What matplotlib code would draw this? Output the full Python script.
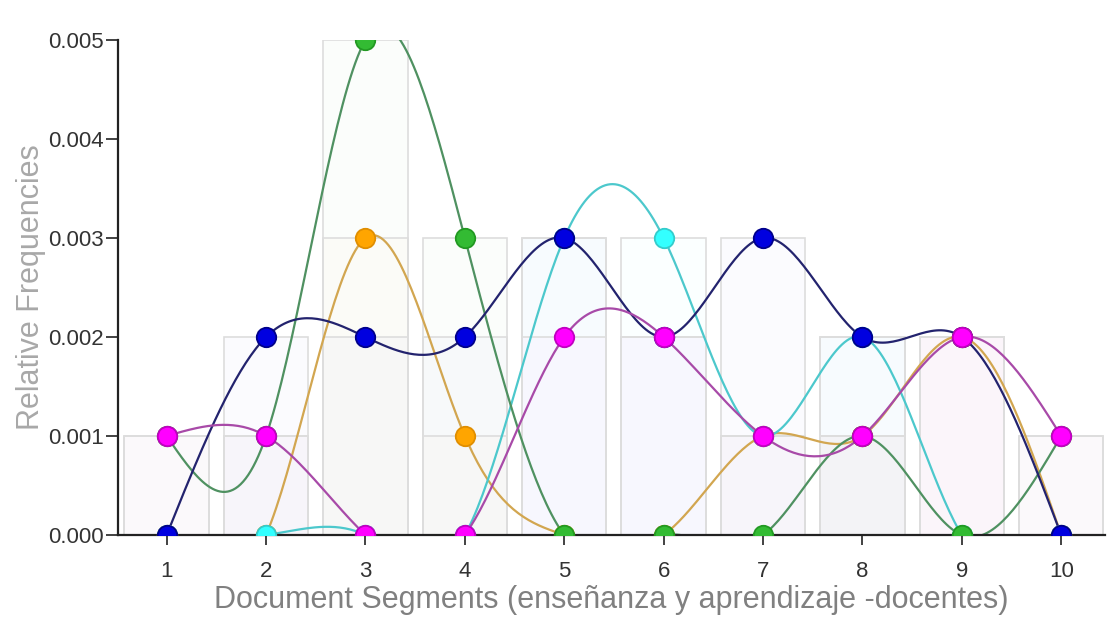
import numpy as np
import matplotlib
matplotlib.use('Agg')
import matplotlib.pyplot as plt

# ================= data =================
segments = [1, 2, 3, 4, 5, 6, 7, 8, 9, 10]
orange_vals = [0, 0, 0.003, 0.001, 0, 0, 0.001, 0.001, 0.002, 0]
cyan_vals = [0, 0, 0, 0, 0.003, 0.003, 0.001, 0.002, 0, 0]
green_vals = [0.001, 0.001, 0.005, 0.003, 0, 0, 0, 0.001, 0, 0.001]
blue_vals = [0, 0.002, 0.002, 0.002, 0.003, 0.002, 0.003, 0.002, 0.002, 0]
magenta_vals = [0.001, 0.001, 0, 0, 0.002, 0.002, 0.001, 0.001, 0.002, 0.001]

# (values, line colour, marker fill, marker edge) in drawing order
SERIES = [
    (orange_vals, "#d2a650", "#ffa500", "#e08e00"),
    (cyan_vals, "#4cc8cc", "#33ffff", "#33cccc"),
    (green_vals, "#4f9161", "#33bb33", "#229922"),
    (blue_vals, "#23236e", "#0000e0", "#00008b"),
    (magenta_vals, "#a84aa8", "#ff00ff", "#c000c0"),
]


def natural_spline(x, y, n=40):
    """natural cubic spline through the points, sampled for drawing"""
    x = np.asarray(x, float)
    y = np.asarray(y, float)
    k = len(x)
    h = np.diff(x)
    A = np.zeros((k, k))
    b = np.zeros(k)
    A[0, 0] = A[-1, -1] = 1
    for i in range(1, k - 1):
        A[i, i - 1] = h[i - 1]
        A[i, i] = 2 * (h[i - 1] + h[i])
        A[i, i + 1] = h[i]
        b[i] = 6 * ((y[i + 1] - y[i]) / h[i] - (y[i] - y[i - 1]) / h[i - 1])
    M = np.linalg.solve(A, b)
    xs, ys = [], []
    for i in range(k - 1):
        t = np.linspace(x[i], x[i + 1], n)
        a = (x[i + 1] - t) / h[i]
        c = (t - x[i]) / h[i]
        s = (a * y[i] + c * y[i + 1]
             + ((a ** 3 - a) * M[i] + (c ** 3 - c) * M[i + 1]) * h[i] ** 2 / 6)
        xs.append(t)
        ys.append(s)
    return np.concatenate(xs), np.concatenate(ys)


plt.rcParams['font.family'] = ['Liberation Sans', 'DejaVu Sans']

fig = plt.figure(figsize=(11.15, 6.19), dpi=100)
ax = fig.add_axes([0.1058, 0.1357, 0.8852, 0.7997])

# faint overlaid bars behind the lines
for vals, lc, fc, ec in SERIES:
    ax.bar(segments, vals, width=0.85, color=fc, alpha=0.015,
           edgecolor="none", zorder=1)
    ax.bar(segments, vals, width=0.85, fill=False,
           edgecolor="#dddddd", linewidth=1.2, zorder=1.5)

for vals, lc, fc, ec in SERIES:
    sx, sy = natural_spline(segments, vals)
    ax.plot(sx, sy, color=lc, lw=1.6, zorder=2)
for vals, lc, fc, ec in SERIES:
    ax.plot(segments, vals, ls="none", marker="o", ms=14, mfc=fc, mec=ec,
            mew=1.3, zorder=3)

ax.set_xlim(0.51, 10.44)
ax.set_ylim(0, 0.005)
ax.set_xticks(segments)
ax.set_yticks([0, 0.001, 0.002, 0.003, 0.004, 0.005])
ax.set_yticklabels([f"{v:.3f}" for v in ax.get_yticks()])

for s in ["top", "right"]:
    ax.spines[s].set_visible(False)
for s in ["left", "bottom"]:
    ax.spines[s].set_color("#222222")
    ax.spines[s].set_linewidth(1.6)

ax.tick_params(axis="both", colors="#333333", labelsize=16, width=1.3)
ax.tick_params(axis="y", length=9, pad=1)
ax.tick_params(axis="x", length=7, pad=12)

ax.set_xlabel("Document Segments (enseñanza y aprendizaje -docentes)",
              fontsize=22, color="#808080", labelpad=2)
ax.set_ylabel("Relative Frequencies", fontsize=22, color="#a8a8a8",
              labelpad=2)

fig.savefig("out.png", dpi=100)
